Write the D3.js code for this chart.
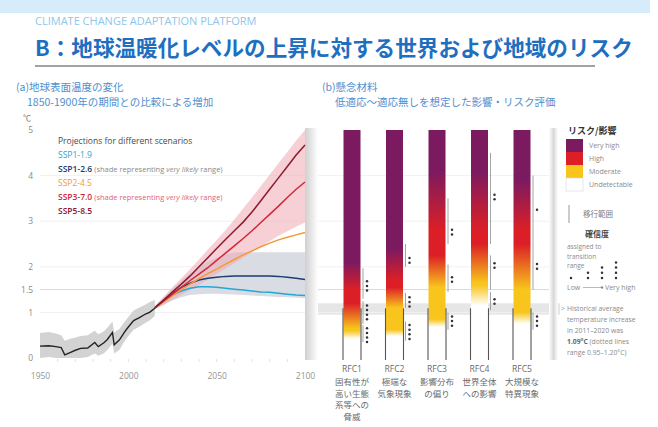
<!DOCTYPE html>
<html lang="ja">
<head>
<meta charset="utf-8">
<script src="https://cdn.jsdelivr.net/npm/d3@7/dist/d3.min.js"></script>
<style>
html,body{margin:0;padding:0;background:#fff;}
svg{display:block;font-family:"Open Sans","Noto Sans CJK JP",sans-serif;}
.jp{font-family:"Noto Sans CJK JP","Noto Sans",sans-serif;}
</style>
</head>
<body>
<svg id="chart" width="658" height="427"></svg>
<script>
// ---------- observed warming (°C relative to 1850-1900) ----------
const histYears = [1950,1955,1959,1962,1964,1967,1970,1973,1977,1981,1983,1986,1988,1991,1992,1995,1998,2000,2003,2006,2010,2012,2015];
const histMean  = [0.26,0.27,0.25,0.23,0.07,0.12,0.17,0.21,0.22,0.34,0.25,0.33,0.40,0.56,0.29,0.40,0.58,0.68,0.82,0.88,0.97,1.00,1.09];
const histLow   = [0.00,0.02,0.00,0.00,0.00,0.00,0.00,0.00,0.02,0.10,0.05,0.10,0.17,0.32,0.10,0.18,0.38,0.48,0.62,0.68,0.78,0.82,0.92];
const histHigh  = [0.55,0.57,0.54,0.50,0.38,0.42,0.45,0.48,0.50,0.60,0.52,0.58,0.66,0.80,0.56,0.64,0.80,0.90,1.04,1.10,1.18,1.22,1.28];

// ---------- scenario projections ----------
const projYears = [2015,2020,2025,2030,2035,2040,2045,2050,2055,2060,2065,2070,2075,2080,2085,2090,2095,2100];
const ssp119 = [1.10,1.25,1.38,1.47,1.53,1.56,1.56,1.55,1.53,1.51,1.49,1.47,1.45,1.44,1.42,1.40,1.38,1.37];
const ssp126 = [1.10,1.27,1.42,1.55,1.64,1.71,1.75,1.77,1.79,1.80,1.80,1.80,1.80,1.80,1.79,1.77,1.75,1.72];
const ssp245 = [1.10,1.23,1.37,1.50,1.62,1.74,1.85,1.95,2.06,2.16,2.26,2.35,2.44,2.52,2.59,2.65,2.70,2.75];
const ssp370 = [1.10,1.25,1.40,1.55,1.70,1.84,1.98,2.14,2.30,2.46,2.62,2.79,2.97,3.15,3.33,3.52,3.70,3.86];
const ssp585 = [1.10,1.27,1.45,1.62,1.80,2.00,2.20,2.40,2.60,2.79,2.98,3.20,3.45,3.70,3.95,4.20,4.45,4.67];
const ssp126Low  = [1.08,1.17,1.26,1.33,1.38,1.40,1.41,1.41,1.40,1.39,1.38,1.37,1.36,1.35,1.34,1.33,1.32,1.31];
const ssp126High = [1.13,1.32,1.52,1.70,1.86,2.00,2.11,2.20,2.27,2.32,2.32,2.32,2.32,2.32,2.32,2.32,2.32,2.32];
const ssp370Low  = [1.07,1.17,1.28,1.38,1.49,1.60,1.72,1.84,1.96,2.08,2.20,2.32,2.44,2.56,2.68,2.78,2.88,2.97];
const ssp370High = [1.14,1.35,1.55,1.75,1.95,2.16,2.38,2.59,2.80,3.04,3.28,3.52,3.77,4.02,4.27,4.52,4.77,5.00];

const scenarioNames  = ["SSP1-1.9","SSP1-2.6","SSP2-4.5","SSP3-7.0","SSP5-8.5"];
const scenarioColors = ["#22a7d8","#1e3c72","#f19a35","#d3263b","#8c1a30"];
const yearTicks = [1950,2000,2050,2100];
const tempTicks = [0,1,1.5,2,3,4,5];

// ---------- reasons for concern (burning embers) ----------
const rfcNames = ["RFC1","RFC2","RFC3","RFC4","RFC5"];
const rfcLabels = [["固有性が","高い生態","系等への","脅威"],["極端な","気象現象"],["影響分布","の偏り"],["世界全体","への影響"],["大規模な","特異現象"]];
// colour transitions: undetectable→moderate, moderate→high, high→very high
const umStart = [0.42,0.48,0.68,1.15,0.75];
const umEnd   = [0.60,0.62,0.85,1.60,1.00];
const mhStart = [0.65,1.10,1.55,1.65,1.50];
const mhEnd   = [1.20,1.55,2.25,2.50,2.50];
const hvStart = [1.50,1.70,2.80,2.80,2.80];
const hvEnd   = [2.10,2.40,4.10,4.10,3.90];
// assessed transition ranges with confidence (number of dots)
const umRange = [[0.35,0.72],[0.38,0.80],[0.62,1.00],[1.05,1.45],[0.62,1.00]];
const mhRange = [[0.75,1.25],[1.10,1.43],[1.45,2.05],[1.50,2.25],[1.50,2.50]];
const hvRange = [[1.30,1.97],[2.00,2.50],[2.50,3.50],[2.50,4.50],[2.50,4.00]];
const umConf = [4,4,3,2,3], umDotAt = [0.50,0.57,0.81,1.24,0.81];
const mhConf = [4,3,2,2,2], mhDotAt = [1.00,1.23,1.72,2.03,2.01];
const hvConf = [3,2,2,2,1], hvDotAt = [1.58,2.14,2.76,3.53,3.25];
const levelNames  = ["Very high","High","Moderate","Undetectable"];
const levelColors = ["#ffffff","#f8c51c","#dc1f26","#7c1a60"]; // undetectable → very high
const recentWarming = 1.09;
const recentRange = [0.95,1.20];

// ---------- scales ----------
const svg = d3.select("#chart");
const x = d3.scaleLinear().domain([1950,2100]).range([40,305]);
const y = d3.scaleLinear().domain([0,5]).range([358,130]);
const xr = d3.scalePoint().domain(rfcNames).range([352,522]);
const barW = 17;
const defs = svg.append("defs");

// ---------- header ----------
svg.append("rect").attr("x",0).attr("y",0).attr("width",650).attr("height",13).attr("fill","#d6ecfa");
svg.append("text").attr("x",35).attr("y",25).attr("font-size",11).attr("fill","#8fc6ea")
  .text("CLIMATE CHANGE ADAPTATION PLATFORM");
svg.append("text").attr("class","jp").attr("x",35).attr("y",56).attr("font-size",21.6).attr("font-weight",700)
  .attr("fill","#1f6fc0").text("B：地球温暖化レベルの上昇に対する世界および地域のリスク");
svg.append("line").attr("x1",35).attr("x2",595).attr("y1",66).attr("y2",66).attr("stroke","#a2a2a2").attr("stroke-width",2);

const sub = (tx, ty, str) => svg.append("text").attr("class","jp").attr("x",tx).attr("y",ty)
  .attr("font-size",10.5).attr("fill","#4f8fcf").text(str);
sub(16,91,"(a)地球表面温度の変化");
sub(27,106,"1850-1900年の期間との比較による増加");
sub(322,91,"(b)懸念材料");
sub(335,106,"低適応～適応無しを想定した影響・リスク評価");

// ---------- panel shading ----------
const sh1 = defs.append("linearGradient").attr("id","shadeL");
sh1.append("stop").attr("offset",0).attr("stop-color","#cfcfcf");
sh1.append("stop").attr("offset",1).attr("stop-color","#ffffff");
const sh2 = defs.append("linearGradient").attr("id","shadeR");
sh2.append("stop").attr("offset",0).attr("stop-color","#ffffff");
sh2.append("stop").attr("offset",0.5).attr("stop-color","#d8d8d8");
sh2.append("stop").attr("offset",1).attr("stop-color","#ffffff");

// recent warming band behind the embers
svg.append("rect").attr("x",x(2100)).attr("width",560-x(2100))
  .attr("y",y(recentRange[1])).attr("height",y(recentRange[0])-y(recentRange[1])).attr("fill","#e6e6e6");

// grid lines
const gridVals = [1,2,3,4];
[[x(1950),x(2100)],[318,551]].forEach(([a,b])=>{
  svg.append("g").selectAll("line").data(gridVals).join("line")
    .attr("x1",a).attr("x2",b).attr("y1",d=>y(d)).attr("y2",d=>y(d)).attr("stroke","#f1f1f1");
  svg.append("line").attr("x1",a).attr("x2",b).attr("y1",y(1.5)).attr("y2",y(1.5)).attr("stroke","#d9d9d9");
});

svg.append("rect").attr("x",x(2100)).attr("y",y(5)-2).attr("width",13).attr("height",y(0)-y(5)+4).attr("fill","url(#shadeL)");
svg.append("rect").attr("x",549).attr("y",y(5)-2).attr("width",9).attr("height",y(0)-y(5)+4).attr("fill","url(#shadeR)");

// ---------- left chart ----------
const area = (lo,hi,xs) => d3.area().x((d,i)=>x(xs[i])).y0((d,i)=>y(lo[i])).y1((d,i)=>y(hi[i]))(lo);
const line = (vals,xs) => d3.line().x((d,i)=>x(xs[i])).y(d=>y(d))(vals);

svg.append("path").attr("d",area(histLow,histHigh,histYears)).attr("fill","#d3d3d3");
svg.append("path").attr("d",area(ssp126Low,ssp126High,projYears)).attr("fill","#d9dce3");
svg.append("path").attr("d",area(ssp370Low,ssp370High,projYears)).attr("fill","#f0a9b5").attr("fill-opacity",0.55);

svg.append("path").attr("d",line(histMean,histYears)).attr("fill","none").attr("stroke","#222").attr("stroke-width",1.4);
[ssp119,ssp126,ssp245,ssp370,ssp585].forEach((s,i)=>{
  svg.append("path").attr("d",line(s,projYears)).attr("fill","none")
    .attr("stroke",scenarioColors[i]).attr("stroke-width",1.5);
});

// axes
const xAxis = svg.append("g").attr("transform",`translate(0,${y(0)})`)
  .call(d3.axisBottom(x).tickValues(yearTicks).tickFormat(d3.format("d")).tickSize(0).tickPadding(15));
xAxis.select(".domain").remove();
xAxis.selectAll("text").attr("font-size",8.5).attr("fill","#959595").attr("font-family","Open Sans");
svg.append("g").selectAll("line").data(d3.range(1960,2100,10)).join("line")
  .attr("x1",d=>x(d)).attr("x2",d=>x(d)).attr("y1",y(0)+1).attr("y2",y(0)+4).attr("stroke","#e2e2e2");

const yAxis = svg.append("g").attr("transform",`translate(36,0)`)
  .call(d3.axisLeft(y).tickValues(tempTicks).tickFormat(d=>d).tickSize(0).tickPadding(3));
yAxis.select(".domain").remove();
yAxis.selectAll("text").attr("font-size",8.5).attr("fill","#8a8a8a").attr("font-family","Open Sans");
svg.append("text").attr("x",23).attr("y",121).attr("font-size",8).attr("fill","#777").text("℃");

// scenario legend
svg.append("text").attr("x",58).attr("y",144).attr("font-size",8.5).attr("fill","#4a4a4a")
  .text("Projections for different scenarios");
const noteColors = ["","#8a8a8a","","#e0627a",""];
scenarioNames.forEach((n,i)=>{
  const t = svg.append("text").attr("x",58).attr("y",158+i*14).attr("font-size",8.5);
  t.append("tspan").attr("fill",scenarioColors[i]).attr("font-weight",i===1||i===3||i===4?600:400).text(n);
  if (noteColors[i]) {
    t.append("tspan").attr("fill",noteColors[i]).attr("font-size",7.5).text(" (shade representing ");
    t.append("tspan").attr("fill",noteColors[i]).attr("font-size",7.5).attr("font-style","italic").text("very likely");
    t.append("tspan").attr("fill",noteColors[i]).attr("font-size",7.5).text(" range)");
  }
});

// ---------- embers ----------
rfcNames.forEach((n,i)=>{
  const g = defs.append("linearGradient").attr("id","ember"+i).attr("gradientUnits","userSpaceOnUse")
    .attr("x1",0).attr("x2",0).attr("y1",y(0)).attr("y2",y(5));
  const stops = [[0,0],[umStart[i],0],[umEnd[i],1],[mhStart[i],1],[mhEnd[i],2],[hvStart[i],2],[hvEnd[i],3],[5,3]];
  g.selectAll("stop").data(stops).join("stop")
    .attr("offset",d=>d[0]/5).attr("stop-color",d=>levelColors[d[1]]);
});

const bars = svg.append("g").selectAll("g").data(rfcNames).join("g");
bars.append("rect")
  .attr("x",d=>xr(d)-barW/2).attr("width",barW)
  .attr("y",y(5)).attr("height",y(0)-y(5))
  .attr("fill",(d,i)=>`url(#ember${i})`);
// outline of the already-observed part
[-1,1].forEach(side=>{
  bars.append("line")
    .attr("x1",d=>xr(d)+side*(barW/2+0.5)).attr("x2",d=>xr(d)+side*(barW/2+0.5))
    .attr("y1",y(recentWarming)).attr("y2",y(0)+2)
    .attr("stroke","#555").attr("stroke-width",1.1);
});

// transition ranges and confidence dots
function dots(g, cx, cy, n, gap){
  const ys = d3.range(n).map(k => cy + (k-(n-1)/2)*gap);
  g.selectAll(null).data(ys).join("circle").attr("cx",cx).attr("cy",v=>v).attr("r",1.25).attr("fill","#333");
}
const transG = svg.append("g");
rfcNames.forEach((n,i)=>{
  const lx = xr(n)+barW/2+2.5;
  [[umRange,umConf,umDotAt],[mhRange,mhConf,mhDotAt],[hvRange,hvConf,hvDotAt]].forEach(([rg,cf,at])=>{
    transG.append("line").attr("x1",lx).attr("x2",lx).attr("y1",y(rg[i][1])).attr("y2",y(rg[i][0]))
      .attr("stroke","#9a9a9a").attr("stroke-width",0.9);
    dots(transG.append("g"), lx+4, y(at[i]), cf[i], 4.6);
  });
});

// category labels
const lab = svg.append("g").selectAll("text").data(rfcNames).join("text")
  .attr("x",d=>xr(d)).attr("text-anchor","middle").attr("fill","#6a6a6a");
lab.append("tspan").attr("y",372).attr("font-size",8.6).attr("font-family","Open Sans").text(d=>d);
lab.each(function(d,i){
  d3.select(this).selectAll("tspan.l").data(rfcLabels[i]).join("tspan").attr("class","l jp")
    .attr("x",xr(d)).attr("y",(t,k)=>385+k*11.6).attr("font-size",8.5).text(t=>t);
});

// ---------- legend (right) ----------
const L = svg.append("g");
L.append("text").attr("class","jp").attr("x",568).attr("y",134).attr("font-size",9).attr("font-weight",700)
  .attr("fill","#333").text("リスク/影響");
levelNames.forEach((nm,k)=>{
  L.append("rect").attr("x",566).attr("y",139+k*13).attr("width",17).attr("height",13)
    .attr("fill",levelColors[3-k]).attr("stroke",k===3?"#d8d8d8":"none").attr("stroke-width",0.6);
  L.append("text").attr("x",589).attr("y",148+k*13).attr("font-size",7).attr("fill","#8a8a8a").text(nm);
});
L.append("line").attr("x1",569).attr("x2",569).attr("y1",205).attr("y2",223).attr("stroke","#999");
L.append("text").attr("class","jp").attr("x",583).attr("y",217).attr("font-size",7.5).attr("fill","#777").text("移行範囲");
L.append("text").attr("class","jp").attr("x",597).attr("y",237).attr("text-anchor","middle")
  .attr("font-size",8).attr("font-weight",700).attr("fill","#444").text("確信度");
["assigned to","transition","range"].forEach((s,k)=>{
  L.append("text").attr("x",567).attr("y",249+k*9.5).attr("font-size",6.5).attr("fill","#8a8a8a").text(s);
});
[[571,1],[588,2],[602,3],[616,4]].forEach(([cx,n])=>{
  dots(L.append("g"), cx, 278-(n-1)*2.6, n, 5.2);
});
L.append("text").attr("x",567).attr("y",290).attr("font-size",7).attr("fill","#8a8a8a").text("Low");
L.append("line").attr("x1",583).attr("x2",601).attr("y1",287.5).attr("y2",287.5).attr("stroke","#aaa").attr("stroke-width",0.8);
L.append("circle").attr("cx",602).attr("cy",287.5).attr("r",1.2).attr("fill","#888");
L.append("text").attr("x",605).attr("y",290).attr("font-size",7).attr("fill","#8a8a8a").text("Very high");
L.append("text").attr("x",561).attr("y",311).attr("font-size",7).attr("fill","#999").text(">");
const noteLines = ["Historical average","temperature increase","in 2011–2020 was","1.09°C (dotted lines","range 0.95–1.20°C)"];
noteLines.forEach((s,k)=>{
  const t = L.append("text").attr("x",567).attr("y",311+k*11).attr("font-size",6.8).attr("fill","#8a8a8a");
  if (k===3) {
    t.append("tspan").attr("font-weight",700).attr("fill","#666").text("1.09°C");
    t.append("tspan").text(" (dotted lines");
  } else t.text(s);
});
</script>
</body>
</html>
